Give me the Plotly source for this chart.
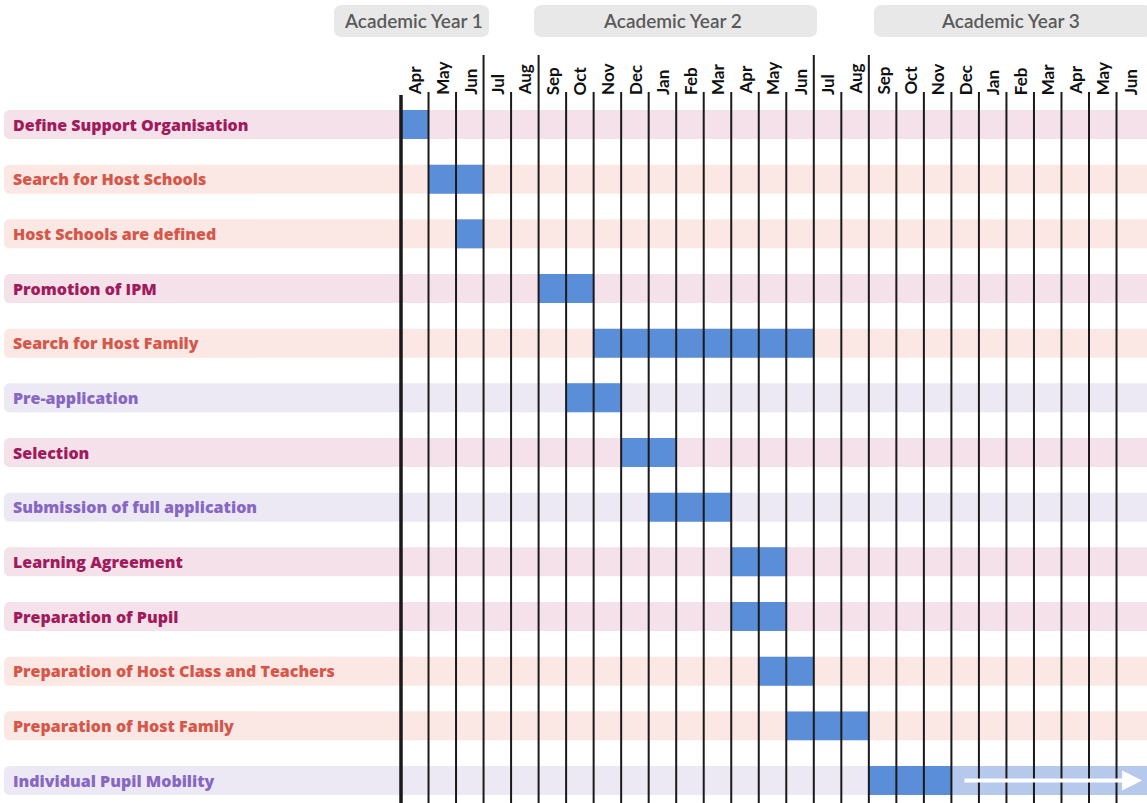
import plotly.graph_objects as go

W, H = 1147, 803

months = ["Apr", "May", "Jun", "Jul", "Aug", "Sep", "Oct", "Nov", "Dec", "Jan", "Feb", "Mar",
          "Apr", "May", "Jun", "Jul", "Aug", "Sep", "Oct", "Nov", "Dec", "Jan", "Feb", "Mar",
          "Apr", "May", "Jun"]
years = ["Academic Year 1", "Academic Year 2", "Academic Year 3"]
tasks = ["Define Support Organisation", "Search for Host Schools", "Host Schools are defined",
         "Promotion of IPM", "Search for Host Family", "Pre-application", "Selection",
         "Submission of full application", "Learning Agreement", "Preparation of Pupil",
         "Preparation of Host Class and Teachers", "Preparation of Host Family",
         "Individual Pupil Mobility"]
groups = ["org", "host", "host", "org", "host", "app", "org", "app", "org", "org",
          "host", "host", "app"]
start_month = [0, 1, 2, 5, 7, 6, 8, 9, 12, 12, 13, 14, 17]
duration = [1, 2, 1, 2, 8, 2, 2, 3, 2, 2, 2, 3, 3]
ongoing_task = ["Individual Pupil Mobility"]
ongoing_start = [20]
ongoing_duration = [7.2]

# ---- styling / geometry ----
X0, CW = 401.0, 27.52          # pixel of month 0 boundary, column width
Y0, RH = 124.5, 54.67          # pixel of first row centre, row spacing
text_col = {"org": "#a01a5c", "host": "#d6574a", "app": "#8767c2"}
band_col = {"org": "#f4e1ea", "host": "#fbe8e4", "app": "#ece9f4"}
bar_dark, bar_light = "#5a8ed8", "#b6c8eb"


def px_x(p):
    return p / W


def px_y(p):
    return 1 - p / H


def rrect_paper(x0, x1, y0, y1, r):
    X = lambda p: px_x(p)
    Y = lambda p: px_y(p)
    return (f"M {X(x0 + r)} {Y(y0)} L {X(x1 - r)} {Y(y0)} Q {X(x1)} {Y(y0)} {X(x1)} {Y(y0 + r)} "
            f"L {X(x1)} {Y(y1 - r)} Q {X(x1)} {Y(y1)} {X(x1 - r)} {Y(y1)} "
            f"L {X(x0 + r)} {Y(y1)} Q {X(x0)} {Y(y1)} {X(x0)} {Y(y1 - r)} "
            f"L {X(x0)} {Y(y0 + r)} Q {X(x0)} {Y(y0)} {X(x0 + r)} {Y(y0)} Z")


fig = go.Figure()

fig.add_trace(go.Bar(
    y=tasks, x=duration, base=start_month, orientation="h",
    marker=dict(color=bar_dark, line=dict(width=0)), width=0.53,
    hoverinfo="skip", showlegend=False))
fig.add_trace(go.Bar(
    y=ongoing_task, x=ongoing_duration, base=ongoing_start, orientation="h",
    marker=dict(color=bar_light, line=dict(width=0)), width=0.53,
    hoverinfo="skip", showlegend=False))

shapes = []
annotations = []

# label bands
for i, (t, g) in enumerate(zip(tasks, groups)):
    yc = Y0 + i * RH
    shapes.append(dict(type="path", xref="paper", yref="paper", layer="below",
                       path=rrect_paper(4, 1160, yc - 14.5, yc + 14.5, 6),
                       fillcolor=band_col[g], line=dict(width=0)))
    annotations.append(dict(text=t, xref="paper", yref="y", x=px_x(11), y=t,
                            xanchor="left", yanchor="middle", showarrow=False,
                            font=dict(family="Open Sans", size=16, color=text_col[g], weight=800)))

# year header boxes
year_boxes = [(334, 489, 413), (534, 817, 672), (874, 1152, 1010)]
for name, (bx0, bx1, cx) in zip(years, year_boxes):
    shapes.append(dict(type="path", xref="paper", yref="paper", layer="below",
                       path=rrect_paper(bx0, bx1, 5, 37, 8),
                       fillcolor="#e8e8e8", line=dict(width=0)))
    annotations.append(dict(text=name, xref="paper", yref="paper", x=px_x(cx), y=px_y(21),
                            xanchor="center", yanchor="middle", showarrow=False,
                            font=dict(family="Lato", size=19, color="#5a5a5a", weight=600)))

# month labels
for m, name in enumerate(months):
    annotations.append(dict(text=name, xref="x", yref="paper", x=m + 0.5, y=px_y(97),
                            xanchor="center", yanchor="bottom", textangle=-90,
                            showarrow=False,
                            font=dict(family="Lato", size=17, color="#111111", weight="bold")))

# vertical grid lines
tall = {3, 5, 15, 17}
for m in range(len(months)):
    if m == 0:
        top, w = 95, 3.5
    elif m in tall:
        top, w = 55, 2
    else:
        top, w = 92, 2
    shapes.append(dict(type="line", xref="x", yref="paper", x0=m, x1=m,
                       y0=px_y(top), y1=0, layer="above",
                       line=dict(color="#1a1a1a", width=w)))

# ongoing arrow
annotations.append(dict(text="", xref="x", yref="y", axref="x", ayref="y",
                        x=26.93, y=ongoing_task[0], ax=20.42, ay=ongoing_task[0],
                        showarrow=True, arrowcolor="white", arrowwidth=4,
                        arrowhead=2, arrowsize=1))

fig.update_layout(
    width=W, height=H, margin=dict(l=0, r=0, t=0, b=0),
    paper_bgcolor="white", plot_bgcolor="rgba(0,0,0,0)",
    barmode="overlay",
    xaxis=dict(range=[-X0 / CW, (W - X0) / CW], visible=False, domain=[0, 1]),
    yaxis=dict(range=[(H - Y0) / RH, -Y0 / RH], visible=False, domain=[0, 1],
               type="category", categoryorder="array", categoryarray=tasks),
    shapes=shapes, annotations=annotations,
)

fig.write_html("out.html")
